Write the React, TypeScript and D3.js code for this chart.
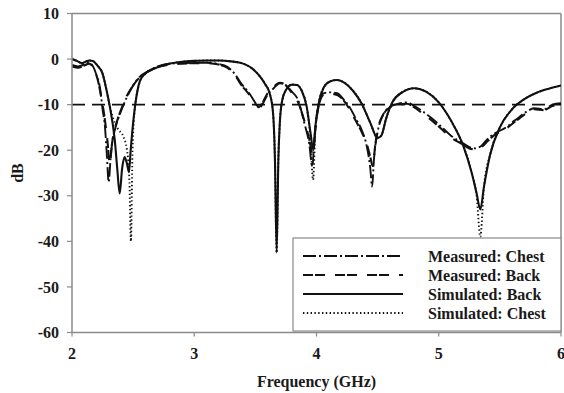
import React from "react";
import * as d3 from "d3";

// Return loss of the wearable antenna, frequency in GHz vs. magnitude in dB
const measuredChest: [number, number][] = [
  [2.0, -1.3], [2.05, -1.6], [2.09, -1.3], [2.13, -0.7], [2.17, -1.5], [2.2, -3.5],
  [2.23, -6.5], [2.25, -11], [2.27, -15], [2.285, -21], [2.3, -27], [2.315, -22],
  [2.33, -18], [2.35, -15.6], [2.4, -11.5], [2.45, -8.3], [2.53, -4.6], [2.64, -2.4],
  [2.8, -1.0], [2.9, -0.9], [3.0, -0.8], [3.1, -0.8], [3.2, -1.1], [3.27, -1.7],
  [3.33, -3.2], [3.38, -5.2], [3.45, -7.5], [3.51, -10], [3.535, -10.8], [3.56, -9.8],
  [3.6, -7.8], [3.65, -6.4], [3.7, -5.3], [3.74, -5.6], [3.8, -7.2], [3.85, -9],
  [3.9, -14], [3.94, -18.5], [3.965, -23.5], [3.985, -17], [4.01, -11], [4.05, -7.6],
  [4.1, -7.3], [4.17, -7.5], [4.22, -8.8], [4.27, -10.5], [4.32, -13], [4.37, -15.6],
  [4.41, -19], [4.44, -24], [4.455, -28], [4.47, -22], [4.5, -16], [4.54, -12.5],
  [4.6, -10.5], [4.67, -9.8], [4.74, -9.5], [4.8, -10.3], [4.87, -11.5], [4.93, -12.7],
  [5.0, -14.3], [5.1, -16.8], [5.2, -18.5], [5.25, -19.3], [5.3, -19.6], [5.35, -19],
  [5.4, -17.5], [5.46, -16.3], [5.55, -15], [5.62, -13.5], [5.66, -12.7], [5.72, -11.5],
  [5.78, -10.8], [5.86, -11], [5.93, -10], [6.0, -9.7],
];

const measuredBack: [number, number][] = [
  [2.0, -1.6], [2.05, -1.9], [2.1, -1.4], [2.14, -1.0], [2.18, -2.2], [2.21, -4.5],
  [2.24, -8.5], [2.27, -13.5], [2.29, -18], [2.31, -23], [2.325, -19], [2.34, -16.5],
  [2.37, -13.5], [2.41, -10.5], [2.45, -8], [2.5, -5.8], [2.56, -3.8], [2.64, -2.5],
  [2.72, -1.6], [2.8, -1.2], [2.9, -1.0], [3.0, -0.9], [3.1, -0.9], [3.2, -1.2],
  [3.27, -1.9], [3.33, -3.4], [3.38, -5.5], [3.45, -7.8], [3.5, -9.8], [3.53, -10.5],
  [3.56, -9.5], [3.6, -7.5], [3.65, -6.1], [3.7, -5.2], [3.75, -5.8], [3.8, -7.5],
  [3.85, -9.5], [3.9, -13.5], [3.94, -17.5], [3.97, -21], [3.99, -15.5], [4.02, -10],
  [4.06, -7.8], [4.12, -7.6], [4.17, -7.9], [4.22, -9], [4.27, -11], [4.32, -13.5],
  [4.37, -16], [4.41, -18.5], [4.44, -21.5], [4.46, -23.5], [4.48, -19], [4.51, -14.5],
  [4.55, -12], [4.6, -10.6], [4.67, -10], [4.74, -9.8], [4.8, -10.6], [4.87, -12],
  [4.93, -13.2], [5.0, -14.8], [5.1, -17.2], [5.2, -18.8], [5.25, -19.6], [5.3, -19.8],
  [5.35, -19.3], [5.4, -18], [5.46, -16.6], [5.55, -15.3], [5.62, -13.8], [5.66, -13],
  [5.72, -11.8], [5.78, -11], [5.86, -11.2], [5.93, -10.3], [6.0, -10],
];

const simulatedBack: [number, number][] = [
  [2.0, 0], [2.04, -0.4], [2.08, -0.9], [2.11, -0.6], [2.14, -0.3], [2.17, -0.4],
  [2.21, -1.5], [2.25, -3.2], [2.28, -6.5], [2.31, -10.5], [2.35, -17.8], [2.37, -24],
  [2.39, -29.5], [2.41, -24], [2.43, -21.5], [2.45, -23], [2.466, -24.8], [2.48, -20],
  [2.5, -14], [2.515, -10.5], [2.535, -7], [2.556, -4.8], [2.6, -3.2], [2.7, -1.8],
  [2.8, -1.0], [2.9, -0.6], [3.0, -0.4], [3.1, -0.3], [3.2, -0.3], [3.3, -0.5],
  [3.4, -1], [3.47, -2], [3.54, -3.9], [3.58, -5.5], [3.62, -7.8], [3.645, -12],
  [3.66, -22], [3.674, -42.5], [3.688, -22], [3.7, -14], [3.72, -9], [3.75, -6.8],
  [3.8, -5.6], [3.84, -5.7], [3.88, -7], [3.92, -10.5], [3.95, -16], [3.975, -20],
  [3.99, -15], [4.02, -9.5], [4.06, -6.2], [4.11, -4.9], [4.17, -4.6], [4.23, -5.2],
  [4.3, -7], [4.37, -9.8], [4.44, -14], [4.5, -17.3], [4.53, -16.8], [4.57, -13],
  [4.62, -9.5], [4.7, -7.3], [4.8, -6.4], [4.9, -7.2], [5.0, -9.5], [5.1, -13.5],
  [5.2, -19], [5.27, -25], [5.31, -29.5], [5.34, -33], [5.37, -28], [5.42, -21],
  [5.5, -15], [5.6, -11], [5.7, -8.8], [5.8, -7.4], [5.9, -6.5], [6.0, -5.8],
];

const simulatedChest: [number, number][] = [
  [2.0, 0], [2.04, -0.4], [2.08, -0.9], [2.11, -0.6], [2.14, -0.3], [2.17, -0.4],
  [2.21, -1.5], [2.25, -3.2], [2.28, -6.5], [2.31, -10.5], [2.35, -14], [2.38, -15.5],
  [2.42, -17], [2.45, -20], [2.47, -27], [2.482, -40], [2.495, -20], [2.515, -10.5],
  [2.535, -7], [2.556, -4.8], [2.6, -3.2], [2.7, -1.8], [2.8, -1.0], [2.9, -0.6],
  [3.0, -0.4], [3.1, -0.3], [3.2, -0.3], [3.3, -0.5], [3.4, -1], [3.47, -2],
  [3.54, -3.9], [3.58, -5.5], [3.62, -7.8], [3.645, -12], [3.66, -22], [3.674, -42.5],
  [3.688, -22], [3.7, -14], [3.72, -9], [3.75, -6.8], [3.8, -5.6], [3.84, -5.7],
  [3.88, -7], [3.92, -10.5], [3.95, -17], [3.972, -26.5], [3.99, -16], [4.02, -9.5],
  [4.06, -6.2], [4.11, -4.9], [4.17, -4.6], [4.23, -5.2], [4.3, -7], [4.37, -9.8],
  [4.44, -14], [4.5, -17.3], [4.53, -16.8], [4.57, -13], [4.62, -9.5], [4.7, -7.3],
  [4.8, -6.4], [4.9, -7.2], [5.0, -9.5], [5.1, -13.5], [5.2, -19], [5.27, -25],
  [5.31, -30], [5.34, -39], [5.37, -28], [5.42, -21], [5.5, -15], [5.6, -11],
  [5.7, -8.8], [5.8, -7.4], [5.9, -6.5], [6.0, -5.8],
];

const xTicks = [2, 3, 4, 5, 6];
const yTicks = [10, 0, -10, -20, -30, -40, -50, -60];
const thresholdDb = -10;

const seriesNames = ["Measured: Chest", "Measured: Back", "Simulated: Back", "Simulated: Chest"];

const W = 564;
const H = 393;
const left = 72;
const right = 561;
const top = 13.5;
const bottom = 332.5;

const FONT = "'Liberation Serif', 'Times New Roman', serif";
const AXIS = "#8a8a8a";
const INK = "#1a1a1a";

const styles = [
  { dash: "13,3,2,3", width: 1.9 },
  { dash: "10,2,10,10", width: 2.1 },
  { dash: null as string | null, width: 2.1 },
  { dash: "1.4,2.4", width: 1.9 },
];

export default function App() {
  const x = d3.scaleLinear().domain([2, 6]).range([left, right]);
  const y = d3.scaleLinear().domain([-60, 10]).range([bottom, top]);
  const line = d3
    .line<[number, number]>()
    .x((d) => x(d[0]))
    .y((d) => y(d[1]))
    .curve(d3.curveMonotoneX);

  const data = [measuredChest, measuredBack, simulatedBack, simulatedChest];

  const lgX = 293;
  const lgY = 238;
  const lgW = right - lgX;
  const lgH = bottom - 1.5 - lgY;
  const rowY = [256, 275, 294, 313];

  return (
    <svg
      width={W}
      height={H}
      style={{ position: "absolute", left: 0, top: 0, background: "#fff" }}
      fontFamily={FONT}
      fontWeight="bold"
    >
      <rect width={W} height={H} fill="#fff" />
      <defs>
        <clipPath id="plot">
          <rect x={left} y={top} width={right - left} height={bottom - top} />
        </clipPath>
      </defs>

      {/* frame */}
      <line x1={left} x2={right} y1={top} y2={top} stroke={AXIS} strokeWidth={1.5} />
      <line x1={right} x2={right} y1={top} y2={bottom} stroke={AXIS} strokeWidth={1.5} />

      {/* -10 dB reference */}
      <line
        x1={left}
        x2={right}
        y1={y(thresholdDb)}
        y2={y(thresholdDb)}
        stroke="#111"
        strokeWidth={1.8}
        strokeDasharray="13,7"
      />

      <g clipPath="url(#plot)">
        {data.map((series, i) => (
          <path
            key={seriesNames[i]}
            d={line(series) || ""}
            fill="none"
            stroke="#111"
            strokeWidth={styles[i].width}
            strokeDasharray={styles[i].dash || undefined}
            strokeLinejoin="round"
          />
        ))}
      </g>

      {/* axes */}
      <line x1={left} x2={left} y1={top} y2={bottom} stroke={AXIS} strokeWidth={1.5} />
      <line x1={left} x2={right} y1={bottom} y2={bottom} stroke={AXIS} strokeWidth={1.5} />
      {yTicks.map((t) => (
        <g key={"y" + t}>
          <line x1={left - 5} x2={left} y1={y(t)} y2={y(t)} stroke={AXIS} strokeWidth={1.2} />
          <text x={left - 13} y={y(t)} dy="0.35em" textAnchor="end" fontSize={16} fill={INK}>
            {t}
          </text>
        </g>
      ))}
      {xTicks.map((t) => (
        <g key={"x" + t}>
          <line x1={x(t)} x2={x(t)} y1={bottom} y2={bottom + 4} stroke={AXIS} strokeWidth={1.2} />
          <text x={x(t)} y={359} textAnchor="middle" fontSize={16} fill={INK}>
            {t}
          </text>
        </g>
      ))}
      <text x={(left + right) / 2} y={387} textAnchor="middle" fontSize={16} fill={INK}>
        Frequency (GHz)
      </text>
      <text
        transform={`translate(23,${(top + bottom) / 2}) rotate(-90)`}
        textAnchor="middle"
        fontSize={16}
        fill={INK}
      >
        dB
      </text>

      {/* legend */}
      <rect x={lgX} y={lgY} width={lgW} height={lgH} fill="#fff" stroke={AXIS} strokeWidth={1.2} />
      {seriesNames.map((name, i) => (
        <g key={"lg" + name}>
          <line
            x1={303}
            x2={403}
            y1={rowY[i]}
            y2={rowY[i]}
            stroke="#111"
            strokeWidth={styles[i].width}
            strokeDasharray={styles[i].dash || undefined}
          />
          <text x={428} y={rowY[i]} dy="0.35em" fontSize={16} fill={INK}>
            {name}
          </text>
        </g>
      ))}
    </svg>
  );
}
